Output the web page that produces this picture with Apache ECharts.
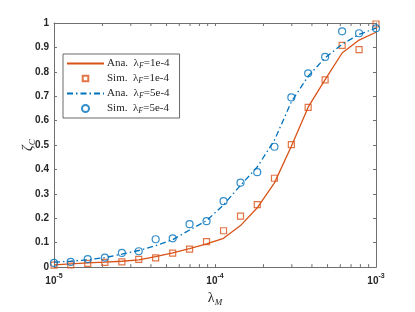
<!DOCTYPE html>
<html><head><meta charset="utf-8">
<script src="https://cdn.jsdelivr.net/npm/echarts@6/dist/echarts.min.js"></script>
<style>html,body{margin:0;padding:0;background:#fff}#c{width:415px;height:312px}</style>
</head><body><div id="c"></div>
<script>
const lambdaM = [1.00e-5, 1.27e-5, 1.62e-5, 2.07e-5, 2.64e-5, 3.36e-5, 4.28e-5, 5.46e-5, 6.95e-5, 8.86e-5,
                 1.13e-4, 1.44e-4, 1.83e-4, 2.34e-4, 2.98e-4, 3.79e-4, 4.83e-4, 6.16e-4, 7.85e-4, 1.00e-3];
const ana1 = [0.009, 0.013, 0.017, 0.020, 0.024, 0.030, 0.043, 0.058, 0.076, 0.095,
              0.118, 0.170, 0.243, 0.345, 0.495, 0.655, 0.768, 0.877, 0.930, 0.962];
const sim1 = [0.008, 0.009, 0.015, 0.019, 0.021, 0.032, 0.038, 0.057, 0.074, 0.104,
              0.149, 0.209, 0.256, 0.364, 0.502, 0.654, 0.767, 0.908, 0.891, 0.996];
const ana2 = [0.020, 0.024, 0.030, 0.039, 0.053, 0.068, 0.088, 0.112, 0.152, 0.190,
              0.255, 0.335, 0.410, 0.520, 0.677, 0.782, 0.857, 0.913, 0.953, 0.979];
const sim2 = [0.017, 0.021, 0.033, 0.039, 0.058, 0.065, 0.114, 0.118, 0.176, 0.188,
              0.270, 0.346, 0.389, 0.493, 0.695, 0.794, 0.861, 0.966, 0.958, 0.978];
const xMinorTicks = [2e-5,3e-5,4e-5,5e-5,6e-5,7e-5,8e-5,9e-5,2e-4,3e-4,4e-4,5e-4,6e-4,7e-4,8e-4,9e-4];
const seriesNames = ['Ana. λF=1e-4', 'Sim. λF=1e-4', 'Ana. λF=5e-4', 'Sim. λF=5e-4'];
const legendRich = {
  'Ana. λF=1e-4': 'Ana.  λ{s|F}=1e-4',
  'Sim. λF=1e-4': 'Sim.  λ{s|F}=1e-4',
  'Ana. λF=5e-4': 'Ana.  λ{s|F}=5e-4',
  'Sim. λF=5e-4': 'Sim.  λ{s|F}=5e-4'
};
const ORANGE = '#D95319', BLUE = '#0072BD', AX = '#707070', TXT = '#262626';
const SQUARE_ICON = 'path://M0,0 M20,20 M2,2 H18 V18 H2 Z';
const pairs = a => lambdaM.map((x, i) => [x, a[i]]);
const chart = echarts.init(document.getElementById('c'), null, {renderer: 'canvas'});
const tickFont = {fontFamily: 'Liberation Sans, Arial, sans-serif', fontSize: 10, fontWeight: 'bold', color: TXT};
chart.setOption({
  animation: false,
  grid: {left: 54, right: 39, top: 23, bottom: 35, show: false},
  xAxis: [{
    type: 'log', logBase: 10, min: 1e-5, max: 1e-3, position: 'bottom',
    axisLine: {show: true, onZero: false, lineStyle: {color: AX, width: 1}},
    axisTick: {show: true, inside: true, length: 3, lineStyle: {color: AX}},
    splitLine: {show: false},
    axisLabel: {
      margin: 5,
      formatter: v => '{b|10}{s|' + Math.round(Math.log10(v)) + '}',
      rich: {
        b: Object.assign({}, tickFont, {fontSize: 10, lineHeight: 14, verticalAlign: 'bottom'}),
        s: Object.assign({}, tickFont, {fontSize: 7, lineHeight: 14, verticalAlign: 'top'})
      }
    },
    name: 'λ{s|M}', nameLocation: 'middle', nameGap: 17,
    nameTextStyle: {fontFamily: 'Liberation Serif, Times New Roman, serif', fontSize: 14, color: TXT,
      rich: {s: {fontFamily: 'Liberation Serif, serif', fontStyle: 'italic', fontSize: 9, color: TXT, padding: [9, 0, 0, 0]}}}
  }, {
    type: 'log', logBase: 10, min: 1e-5, max: 1e-3, position: 'top',
    axisLine: {show: true, onZero: false, lineStyle: {color: AX, width: 1}},
    axisTick: {show: true, inside: true, length: 3, lineStyle: {color: AX}},
    axisLabel: {show: false}, splitLine: {show: false}
  }],
  yAxis: [{
    type: 'value', min: 0, max: 1, interval: 0.1, position: 'left',
    axisLine: {show: true, onZero: false, lineStyle: {color: AX, width: 1}},
    axisTick: {show: true, inside: true, length: 3, lineStyle: {color: AX}},
    splitLine: {show: false},
    axisLabel: Object.assign({}, tickFont, {margin: 5, formatter: v => (Math.round(v * 10) / 10).toString()}),
    name: 'ζ{s|C}', nameLocation: 'middle', nameGap: 17, nameRotate: 90, nameMoveOverlap: false,
    nameTextStyle: {fontFamily: 'Liberation Serif, Times New Roman, serif', fontStyle: 'italic', fontSize: 14, color: TXT,
      rich: {s: {fontFamily: 'Liberation Serif, serif', fontStyle: 'italic', fontSize: 9, color: TXT, padding: [9, 0, 0, 0]}}}
  }, {
    type: 'value', min: 0, max: 1, interval: 0.1, position: 'right',
    axisLine: {show: true, onZero: false, lineStyle: {color: AX, width: 1}},
    axisTick: {show: true, inside: true, length: 3, lineStyle: {color: AX}},
    axisLabel: {show: false}, splitLine: {show: false}
  }],
  legend: {
    orient: 'vertical', left: 63, top: 54,
    backgroundColor: '#fff', borderColor: '#444', borderWidth: 0.8,
    padding: [4, 10, 3, 3], itemGap: 3, itemWidth: 37, itemHeight: 7,
    data: [
      {name: seriesNames[0], itemStyle: {opacity: 0}},
      {name: seriesNames[1], icon: SQUARE_ICON},
      {name: seriesNames[2], itemStyle: {opacity: 0}},
      {name: seriesNames[3], icon: 'circle'}
    ],
    formatter: n => legendRich[n],
    textStyle: {fontFamily: 'Liberation Serif, Times New Roman, serif', fontSize: 11, color: TXT, padding: [0, 0, 0, -2],
      rich: {s: {fontFamily: 'Liberation Serif, serif', fontStyle: 'italic', fontSize: 8, color: TXT, padding: [5, 0, 0, 0]}}}
  },
  series: [{
    name: seriesNames[0], type: 'line', data: pairs(ana1), symbol: 'none',
    lineStyle: {color: ORANGE, width: 1.3}, itemStyle: {color: ORANGE}, z: 3
  }, {
    name: seriesNames[1], type: 'scatter', data: pairs(sim1), symbol: 'rect', symbolSize: 6,
    itemStyle: {color: 'rgba(0,0,0,0)', borderColor: ORANGE, borderWidth: 1.2}, z: 4
  }, {
    name: seriesNames[2], type: 'line', data: pairs(ana2), symbol: 'none',
    lineStyle: {color: BLUE, width: 1.3, type: [6, 3, 1.5, 3]}, itemStyle: {color: BLUE}, z: 5
  }, {
    name: seriesNames[3], type: 'scatter', data: pairs(sim2), symbol: 'circle', symbolSize: 7,
    itemStyle: {color: 'rgba(0,0,0,0)', borderColor: BLUE, borderWidth: 1.2}, z: 6
  }, {
    name: 'minorTicks', type: 'custom', silent: true, z: 2,
    data: xMinorTicks.map(v => [v]),
    encode: {x: 0},
    renderItem: (params, api) => {
      const x = api.value(0);
      const pb = api.coord([x, 0]);
      const pt = api.coord([x, 1]);
      const st = {stroke: AX, lineWidth: 1};
      return {type: 'group', children: [
        {type: 'line', shape: {x1: pb[0], y1: pb[1], x2: pb[0], y2: pb[1] - 3}, style: st},
        {type: 'line', shape: {x1: pt[0], y1: pt[1], x2: pt[0], y2: pt[1] + 3}, style: st}
      ]};
    }
  }]
});
</script></body></html>
